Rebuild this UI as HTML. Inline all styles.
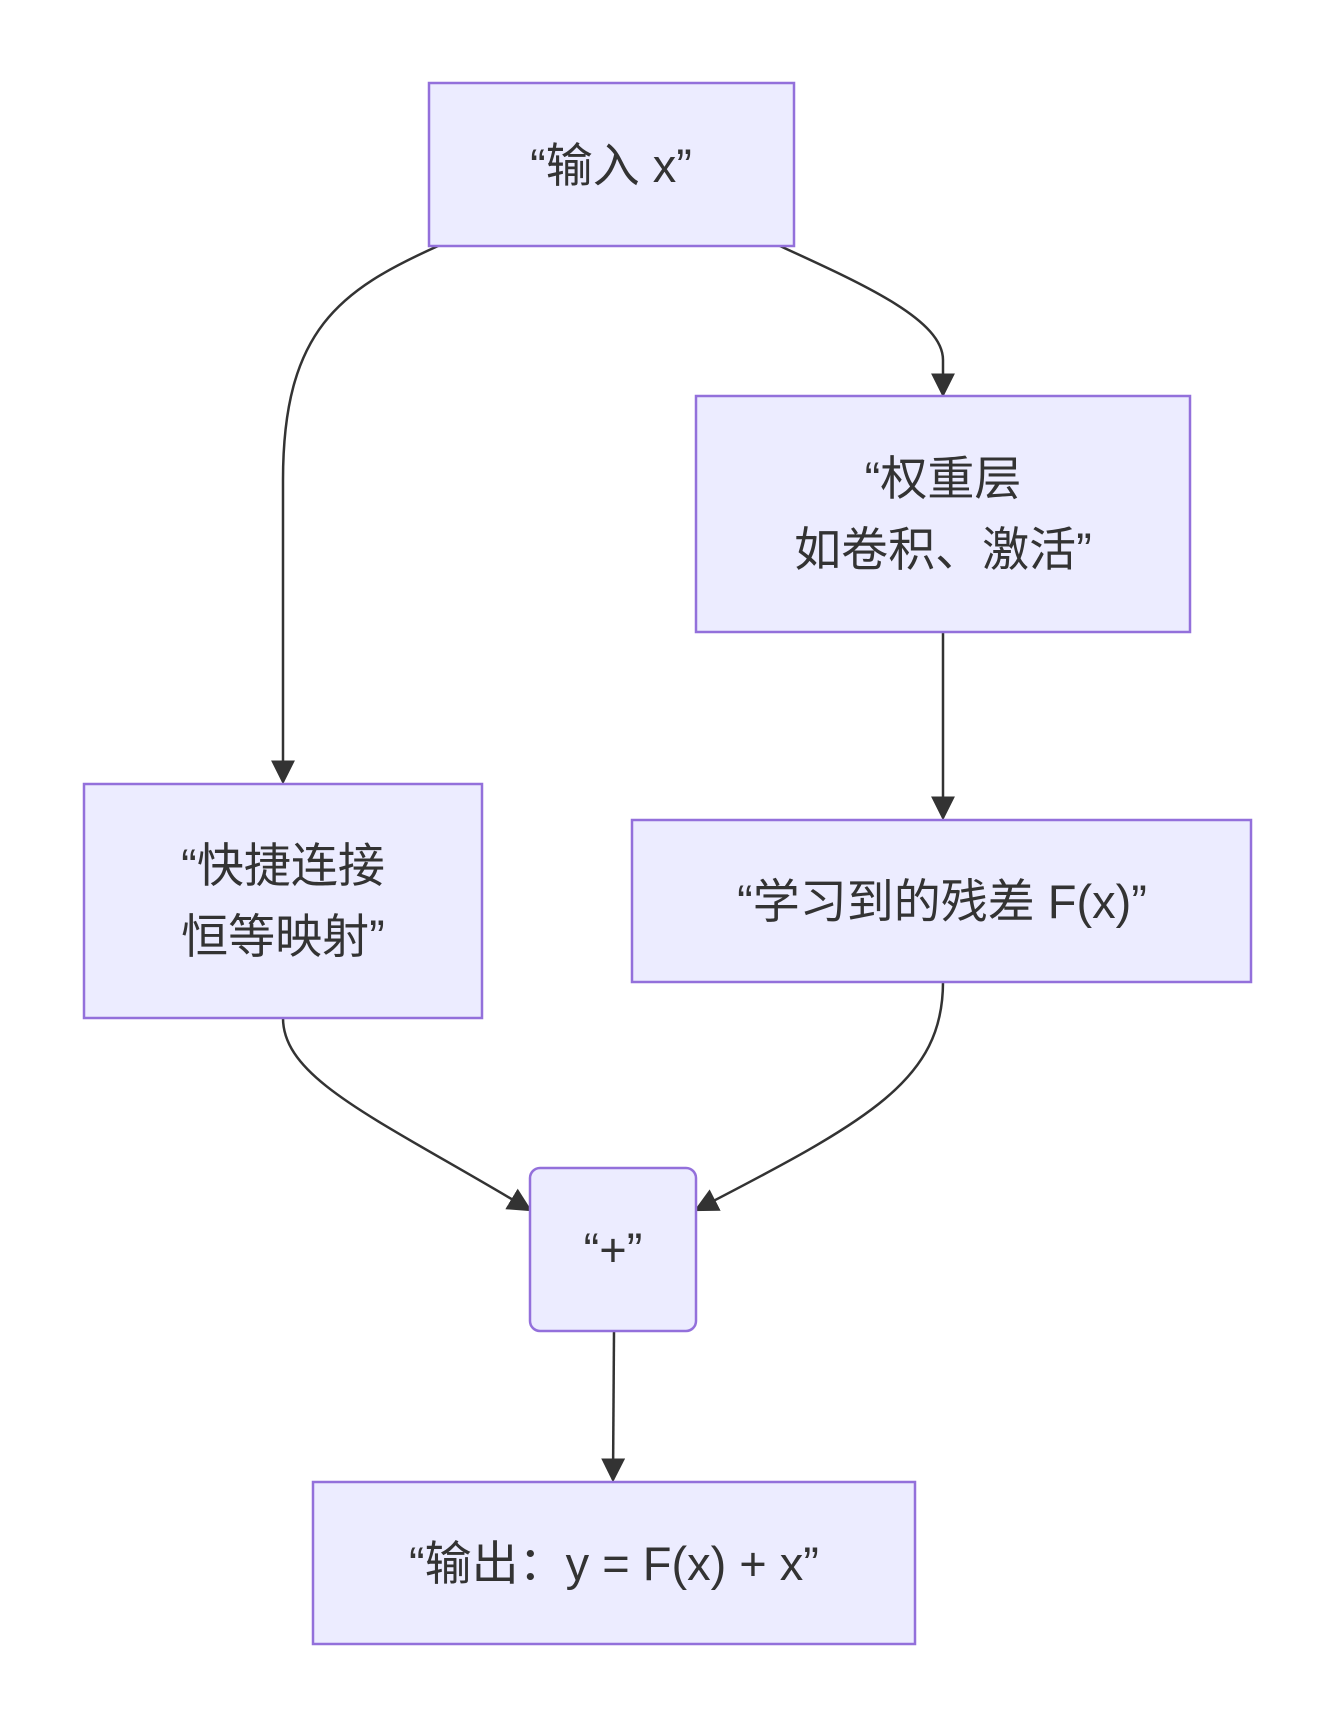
<!DOCTYPE html>
<html><head><meta charset="utf-8"><style>
body{margin:0;background:#fff;}
svg text{font-family:"Liberation Sans","Noto Sans CJK SC",sans-serif;font-size:47px;fill:#333;text-anchor:middle;}
</style></head><body>
<svg width="1333" height="1723" viewBox="0 0 1333 1723" xmlns="http://www.w3.org/2000/svg">
<defs><marker id="b" viewBox="0 0 10 10" refX="9" refY="5" markerWidth="24" markerHeight="24" markerUnits="userSpaceOnUse" orient="auto"><path d="M0,0L10,5L0,10z" fill="#333"/></marker></defs>
<g fill="none" stroke="#333" stroke-width="2.5">
<path d="M438,246 C340,290 283,330 283,480 L283,782" marker-end="url(#b)"/>
<path d="M780,246 C865,285 943,320 943,360 L943,395" marker-end="url(#b)"/>
<path d="M943,632 L943,818" marker-end="url(#b)"/>
<path d="M283,1018 C283,1080 380,1120 530,1210" marker-end="url(#b)"/>
<path d="M943,982 C943,1080 870,1120 696,1210" marker-end="url(#b)"/>
<path d="M614,1331 L613,1480" marker-end="url(#b)"/>
</g>
<g fill="#ececff" stroke="#9370db" stroke-width="2.5">
<rect x="429" y="83" width="365" height="163"/>
<rect x="696" y="396" width="494" height="236"/>
<rect x="84" y="784" width="398" height="234"/>
<rect x="632" y="820" width="619" height="162"/>
<rect x="530" y="1168" width="166" height="163" rx="10"/>
<rect x="313" y="1482" width="602" height="162"/>
</g>
<text x="611" y="182">“输入 x”</text>
<text x="943" y="495">“权重层</text>
<text x="943" y="566">如卷积、激活”</text>
<text x="283" y="882">“快捷连接</text>
<text x="283" y="953">恒等映射”</text>
<text x="942" y="918">“学习到的残差 F(x)”</text>
<text x="613" y="1266">“+”</text>
<text x="614" y="1580">“输出：y = F(x) + x”</text>
</svg>
</body></html>
